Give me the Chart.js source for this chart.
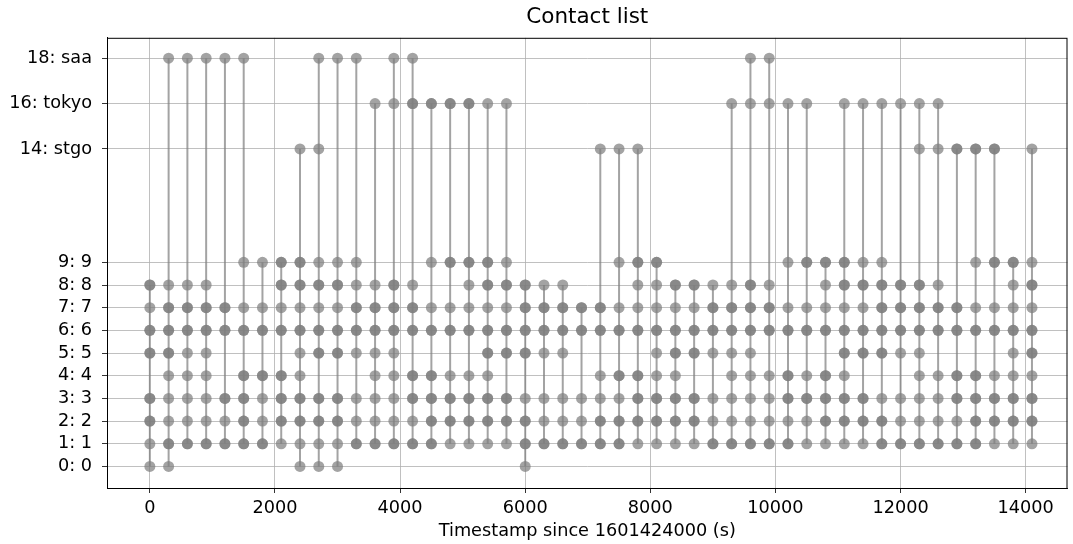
<!DOCTYPE html>
<html>
<head>
<meta charset="utf-8">
<script src="https://cdn.jsdelivr.net/npm/chart.js@4"></script>
<style>
  body { margin: 0; background: #fff; }
  #wrap { width: 1073px; height: 544px; }
</style>
</head>
<body>
<div id="wrap"><canvas id="contactChart"></canvas></div>
<script>
// Contact list - nodes seen at each timestamp
const timestamps = [0, 300, 600, 900, 1200, 1500, 1800, 2100, 2400, 2700, 3000, 3300,
  3600, 3900, 4200, 4500, 4800, 5100, 5400, 5700, 6000, 6300, 6600, 6900,
  7200, 7500, 7800, 8100, 8400, 8700, 9000, 9300, 9600, 9900, 10200, 10500,
  10800, 11100, 11400, 11700, 12000, 12300, 12600, 12900, 13200, 13500, 13800, 14100];

// every node in contact at that timestamp
const nodesSeen = [
  [0, 1, 2, 3, 5, 6, 7, 8],
  [0, 1, 2, 3, 4, 5, 6, 7, 8, 18],
  [1, 2, 3, 4, 5, 6, 7, 8, 18],
  [1, 2, 3, 4, 5, 6, 7, 8, 18],
  [1, 2, 3, 6, 7, 18],
  [1, 2, 3, 4, 6, 7, 9, 18],
  [1, 2, 3, 4, 6, 7, 9],
  [1, 2, 3, 4, 6, 7, 8, 9],
  [0, 1, 2, 3, 4, 5, 6, 7, 8, 9, 14],
  [0, 1, 2, 3, 5, 6, 7, 8, 9, 14, 18],
  [0, 1, 2, 3, 5, 6, 7, 8, 9, 18],
  [1, 2, 3, 5, 6, 7, 8, 9, 18],
  [1, 2, 3, 4, 5, 6, 7, 8, 16],
  [1, 2, 3, 4, 5, 6, 7, 8, 16, 18],
  [1, 2, 3, 4, 6, 7, 8, 16, 18],
  [1, 2, 3, 4, 6, 7, 9, 16],
  [1, 2, 3, 4, 6, 7, 9, 16],
  [1, 2, 3, 4, 6, 7, 8, 9, 16],
  [1, 2, 3, 4, 5, 6, 7, 8, 9, 16],
  [1, 2, 3, 5, 6, 7, 8, 9, 16],
  [0, 1, 2, 3, 5, 6, 7, 8],
  [1, 2, 3, 5, 6, 7, 8],
  [1, 2, 3, 5, 6, 7, 8],
  [1, 2, 3, 6, 7],
  [1, 2, 3, 4, 6, 7, 14],
  [1, 2, 3, 4, 6, 7, 9, 14],
  [1, 2, 3, 4, 6, 7, 8, 9, 14],
  [1, 2, 3, 4, 5, 6, 7, 8, 9],
  [1, 2, 3, 4, 5, 6, 7, 8],
  [1, 2, 3, 5, 6, 7, 8],
  [1, 2, 3, 5, 6, 7, 8],
  [1, 2, 3, 4, 5, 6, 7, 8, 16],
  [1, 2, 3, 4, 5, 6, 7, 8, 16, 18],
  [1, 2, 3, 4, 6, 7, 8, 16, 18],
  [1, 2, 3, 4, 6, 7, 9, 16],
  [1, 2, 3, 4, 6, 7, 9, 16],
  [1, 2, 3, 4, 6, 7, 8, 9],
  [1, 2, 3, 4, 5, 6, 7, 8, 9, 16],
  [1, 2, 3, 5, 6, 7, 8, 9, 16],
  [1, 2, 3, 5, 6, 7, 8, 9, 16],
  [1, 2, 3, 5, 6, 7, 8, 16],
  [1, 2, 3, 4, 5, 6, 7, 8, 14, 16],
  [1, 2, 3, 4, 6, 7, 8, 14, 16],
  [1, 2, 3, 4, 6, 7, 14],
  [1, 2, 3, 4, 6, 7, 9, 14],
  [1, 2, 3, 4, 6, 7, 9, 14],
  [1, 2, 3, 4, 5, 6, 7, 8, 9],
  [1, 2, 3, 4, 5, 6, 7, 8, 9, 14]
];

// nodes in more than one contact (darker markers)
const nodesBusy = [
  [2, 3, 5, 6, 8], [1, 5, 6, 7], [1, 6, 7], [1, 6, 7], [1, 3, 6, 7], [1, 2, 3, 4, 6],
  [1, 4, 6], [2, 3, 4, 6, 8, 9], [2, 3, 6, 8, 9], [2, 3, 5, 6, 8], [2, 3, 5, 6, 8], [1, 6, 7],
  [1, 6, 7], [1, 6, 7, 8], [1, 3, 4, 6, 7, 16], [1, 2, 3, 4, 6, 16], [2, 3, 6, 9, 16], [2, 3, 6, 9, 16],
  [2, 3, 5, 6, 8, 9], [2, 3, 5, 6, 8], [1, 2, 5, 6, 7, 8], [1, 6, 7], [1, 6, 7], [1, 6, 7],
  [1, 2, 6, 7], [1, 2, 4, 6], [2, 3, 4, 6, 9], [2, 3, 6, 9], [2, 3, 5, 6, 8], [2, 3, 5, 6, 8],
  [1, 6, 7], [1, 6, 7], [1, 6, 7, 8], [1, 6, 7], [1, 3, 4, 6], [3, 6, 9],
  [2, 3, 4, 6, 9], [2, 3, 5, 6, 8, 9], [2, 3, 5, 6, 8], [1, 2, 5, 6, 7, 8], [1, 6, 7, 8], [1, 6, 7, 8],
  [1, 6, 7], [1, 3, 4, 6, 7, 14], [1, 2, 3, 4, 6, 14], [2, 3, 6, 9, 14], [2, 3, 6, 9], [2, 3, 5, 6, 8]
];

const nodeTicks = [0, 1, 2, 3, 4, 5, 6, 7, 8, 9, 14, 16, 18];
const nodeNames = ["0", "1", "2", "3", "4", "5", "6", "7", "8", "9", "stgo", "tokyo", "saa"];
const xTicks = [0, 2000, 4000, 6000, 8000, 10000, 12000, 14000];

const GRAY = "rgba(128,128,128,0.72)";
const FONT = "'DejaVu Sans', sans-serif";

// vertical contact lines, broken between timestamps
const linePts = [];
timestamps.forEach((t, i) => {
  linePts.push({ x: t, y: Math.min(...nodesSeen[i]) });
  linePts.push({ x: t, y: Math.max(...nodesSeen[i]) });
  linePts.push({ x: t, y: null });
});
const seenPts = [];
timestamps.forEach((t, i) => nodesSeen[i].forEach(n => seenPts.push({ x: t, y: n })));
const busyPts = [];
timestamps.forEach((t, i) => nodesBusy[i].forEach(n => busyPts.push({ x: t, y: n })));

// matplotlib-like frame around the plot
const frame = {
  id: "frame",
  afterDraw(chart) {
    const { ctx, chartArea: a } = chart;
    ctx.save();
    ctx.strokeStyle = "#000";
    ctx.lineWidth = 1;
    ctx.strokeRect(a.left + 0.5, a.top + 0.5, a.right - a.left - 1, a.bottom - a.top);
    ctx.restore();
  }
};

new Chart(document.getElementById("contactChart"), {
  type: "scatter",
  data: {
    datasets: [
      { data: busyPts, pointRadius: 5.5, pointBackgroundColor: GRAY, pointBorderWidth: 0, order: 1 },
      { data: seenPts, pointRadius: 5.5, pointBackgroundColor: GRAY, pointBorderWidth: 0, order: 2 },
      { data: linePts, showLine: true, spanGaps: false, pointRadius: 0, borderColor: GRAY, borderWidth: 2, order: 3 }
    ]
  },
  options: {
    responsive: true,
    maintainAspectRatio: false,
    animation: false,
    layout: { padding: { left: 0, right: 2, top: 0, bottom: 0 } },
    plugins: {
      legend: { display: false },
      tooltip: { enabled: false },
      title: {
        display: true,
        fullSize: false,
        text: "Contact list",
        color: "#000",
        font: { family: FONT, size: 21.5, weight: "normal" },
        padding: { top: 5, bottom: 7 }
      }
    },
    scales: {
      x: {
        type: "linear",
        min: -685,
        max: 14668,
        afterBuildTicks: s => { s.ticks = xTicks.map(v => ({ value: v })); },
        afterFit: s => { s.height = 56; },
        grid: { color: "#b0b0b0", lineWidth: 0.8, tickLength: 5, tickColor: "#000" },
        border: { color: "#000" },
        ticks: { color: "#000", font: { family: FONT, size: 17.7 }, padding: 5, maxRotation: 0, callback: v => String(v) },
        title: {
          display: true,
          text: "Timestamp since 1601424000 (s)",
          color: "#000",
          font: { family: FONT, size: 17.7 },
          padding: { top: 1, bottom: 2 }
        }
      },
      y: {
        type: "linear",
        min: -0.95,
        max: 18.9,
        afterBuildTicks: s => { s.ticks = nodeTicks.map(v => ({ value: v })); },
        afterFit: s => { s.width = 107; },
        grid: { color: "#b0b0b0", lineWidth: 0.8, tickLength: 5, tickColor: "#000" },
        border: { color: "#000" },
        ticks: {
          color: "#000",
          font: { family: FONT, size: 17.7 },
          padding: 10,
          callback: v => v + ": " + nodeNames[nodeTicks.indexOf(v)]
        }
      }
    }
  },
  plugins: [frame]
});
</script>
</body>
</html>
